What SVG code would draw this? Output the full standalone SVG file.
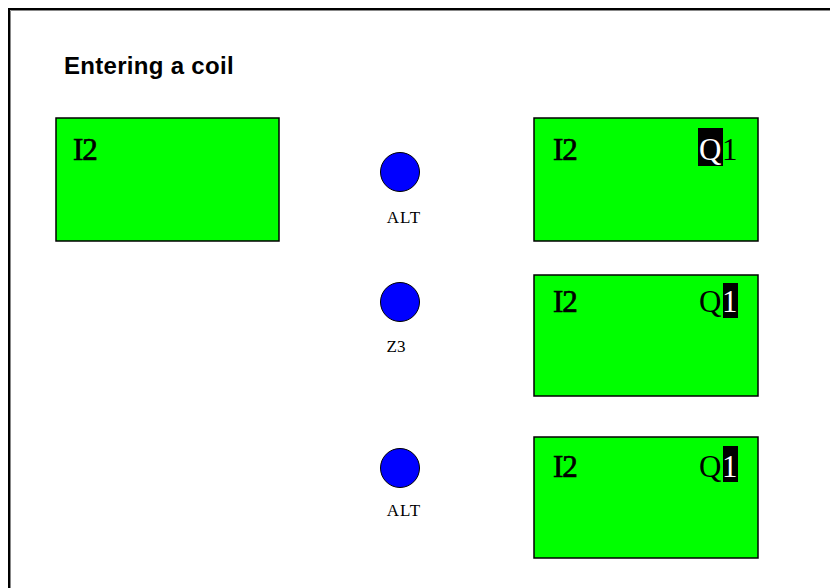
<svg xmlns="http://www.w3.org/2000/svg" width="830" height="588" viewBox="0 0 830 588">
  <style>
    .panel { fill: #00ff00; stroke: #000; stroke-width: 1.5; }
    .key { fill: #0000ff; stroke: #000; stroke-width: 1; }
    .lcd { font-family: "Liberation Serif", "Times New Roman", serif; font-size: 31px; fill: #000; }
    .inp { font-size: 31px; letter-spacing: -1px; stroke: #000; stroke-width: 0.7px; }
    .lcd-inv { fill: #fff; }
    .hl { fill: #000; }
    .keylabel { font-family: "Liberation Serif", "Times New Roman", serif; font-size: 17px; fill: #000; text-anchor: middle; }
    .title { font-family: "Liberation Sans", Arial, sans-serif; font-size: 24px; font-weight: bold; fill: #000; letter-spacing: 0.3px; }
  </style>
  <rect width="830" height="588" fill="#fff"/>
  <!-- window frame, top and left edges -->
  <path d="M9 588 V9 H830" fill="none" stroke="#000" stroke-width="2"/>
  <path d="M10.5 588 V10.5 H830" fill="none" stroke="#888" stroke-width="1"/>

  <text class="title" x="64" y="74">Entering a coil</text>

  <g id="display-start">
    <rect class="panel" x="56" y="118" width="223" height="123"/>
    <text class="lcd inp" x="73" y="160">I2</text>
  </g>

  <g id="key-alt-1">
    <circle class="key" cx="400" cy="172" r="19.5"/>
    <text class="keylabel" x="404" y="223" letter-spacing="1">ALT</text>
  </g>

  <g id="key-z3">
    <circle class="key" cx="400" cy="302" r="19.5"/>
    <text class="keylabel" x="396" y="352" font-size="15">Z3</text>
  </g>

  <g id="key-alt-2">
    <circle class="key" cx="400" cy="468" r="19.5"/>
    <text class="keylabel" x="404" y="516" letter-spacing="1">ALT</text>
  </g>

  <g id="display-q-selected">
    <rect class="panel" x="534" y="118" width="224" height="123"/>
    <text class="lcd inp" x="553" y="160">I2</text>
    <rect class="hl" x="698" y="128" width="25" height="38"/>
    <text class="lcd lcd-inv" x="699" y="160">Q</text>
    <text class="lcd" x="722" y="160">1</text>
  </g>

  <g id="display-digit-selected">
    <rect class="panel" x="534" y="275" width="224" height="121"/>
    <text class="lcd inp" x="553" y="312">I2</text>
    <text class="lcd" x="699" y="312">Q</text>
    <rect class="hl" x="723" y="283" width="15" height="35"/>
    <text class="lcd lcd-inv" x="722" y="312">1</text>
  </g>

  <g id="display-confirmed">
    <rect class="panel" x="534" y="437" width="224" height="121"/>
    <text class="lcd inp" x="553" y="477">I2</text>
    <text class="lcd" x="699" y="477">Q</text>
    <rect class="hl" x="723" y="446" width="15" height="36"/>
    <text class="lcd lcd-inv" x="722" y="477">1</text>
  </g>

  <g id="connectors"/>
</svg>
